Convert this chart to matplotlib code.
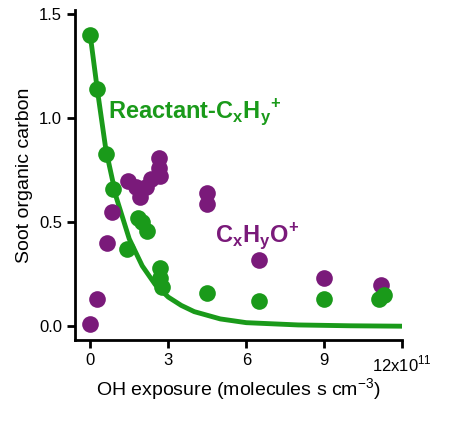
import matplotlib
matplotlib.use("Agg")
import matplotlib.pyplot as plt
plt.rcParams['font.family'] = ['Liberation Sans', 'DejaVu Sans']
plt.rcParams['mathtext.fontset'] = 'custom'
plt.rcParams['mathtext.rm'] = 'Liberation Sans'
plt.rcParams['mathtext.bf'] = 'Liberation Sans:bold'

green_x = [0, 0.27, 0.6, 0.88, 1.4, 1.85, 2.0, 2.2, 2.7, 2.7, 2.75, 4.5, 6.5, 9.0, 11.1, 11.3]
green_y = [1.40, 1.14, 0.83, 0.66, 0.37, 0.52, 0.50, 0.46, 0.28, 0.23, 0.19, 0.16, 0.12, 0.13, 0.13, 0.15]
purple_x = [0, 0.27, 0.65, 0.85, 1.45, 1.77, 1.9, 2.15, 2.35, 2.65, 2.65, 2.7, 4.5, 4.5, 6.5, 9.0, 11.2]
purple_y = [0.01, 0.13, 0.40, 0.55, 0.70, 0.67, 0.62, 0.67, 0.71, 0.81, 0.76, 0.72, 0.64, 0.59, 0.32, 0.23, 0.20]
fit_x = [0, 0.27, 0.6, 1, 1.5, 2, 2.5, 3, 3.5, 4, 5, 6, 8, 10, 12]
fit_y = [1.40, 1.14, 0.85, 0.62, 0.42, 0.29, 0.20, 0.14, 0.10, 0.07, 0.035, 0.017, 0.006, 0.002, 0.0]
xticks = [0, 3, 6, 9, 12]
xticklabels = ["0", "3", "6", "9", "12x10$^{11}$"]
yticks = [0.0, 0.5, 1.0, 1.5]

G = "#1a9a1a"
P = "#7a1a7a"
fig = plt.figure(figsize=(4.5, 4.22), dpi=100)
ax = fig.add_axes([0.167, 0.194, 0.727, 0.782])
ax.plot(fit_x, fit_y, color=G, lw=3.5, zorder=2)
ax.plot(purple_x, purple_y, 'o', color=P, ms=12, mec='none', zorder=3)
ax.plot(green_x, green_y, 'o', color=G, ms=12, mec='none', zorder=4)
ax.set_xlim(-0.58, 12.0)
ax.set_ylim(-0.067, 1.52)
ax.set_xticks(xticks)
ax.set_xticklabels(xticklabels)
ax.set_yticks(yticks)
ax.set_yticklabels(["0.0", "0.5", "1.0", "1.5"])
for s in ["top", "right"]:
    ax.spines[s].set_visible(False)
for s in ["left", "bottom"]:
    ax.spines[s].set_linewidth(2)
ax.tick_params(width=2, length=6, labelsize=12)
ax.set_ylabel("Soot organic carbon", fontsize=14)
ax.set_xlabel("OH exposure (molecules s cm$^{-3}$)", fontsize=14, labelpad=2)
ax.text(0.7, 1.0, "Reactant-C$_\\mathbf{x}$H$_\\mathbf{y}$$^\\mathbf{+}$", color=G,
        fontsize=17, fontweight='bold')
ax.text(4.8, 0.40, "C$_\\mathbf{x}$H$_\\mathbf{y}$O$^\\mathbf{+}$", color=P,
        fontsize=17, fontweight='bold')
fig.savefig("out.png", dpi=100)
